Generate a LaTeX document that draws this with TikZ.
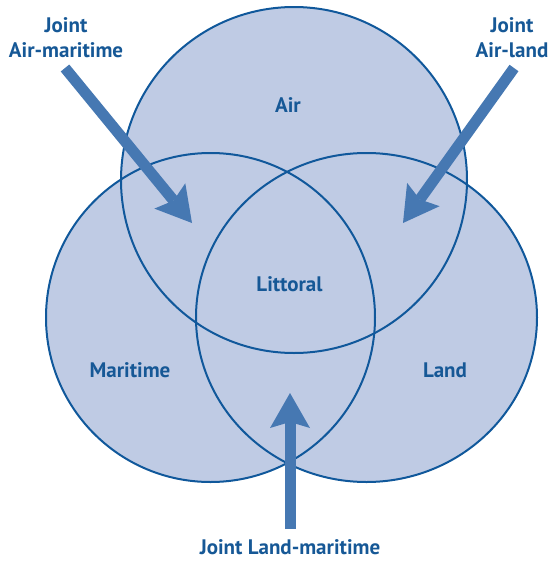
\documentclass[tikz,border=0pt]{standalone}
\usepackage{fontspec}
\setmainfont{PT Sans}
\usepackage{tikz}
\usetikzlibrary{arrows.meta}

\definecolor{zonefill}{RGB}{191,203,228}
\definecolor{zoneline}{RGB}{16,88,155}
\definecolor{arrowblue}{RGB}{70,120,178}
\definecolor{labelblue}{RGB}{22,88,150}

\begin{document}
\begin{tikzpicture}[
    x=1pt, y=-1pt,
    zone/.style={line width=2pt, draw=zoneline},
    lbl/.style={text=labelblue, font=\fontsize{21}{25}\selectfont\bfseries, align=center, anchor=base, inner sep=0pt},
    bigarr/.style={line width=11pt, draw=arrowblue, -{Stealth[length=35pt, width=40pt, inset=6pt, line width=0pt]}}
]
\useasboundingbox (0,0) rectangle (550,563);

% Domains
\coordinate (air)      at (294,180);
\coordinate (maritime) at (210.5,317.5);
\coordinate (land)     at (366.5,317.5);
\fill[zonefill] (air) circle [radius=173];
\fill[zonefill] (maritime) circle [radius=164.5];
\fill[zonefill] (land) ellipse [x radius=170.5, y radius=164.5];
\draw[zone] (air) circle [radius=173];
\draw[zone] (maritime) circle [radius=164.5];
\draw[zone] (land) ellipse [x radius=170.5, y radius=164.5];

% Labels
\node[lbl] (airtxt)  at (288,112) {Air};
\node[lbl] (littxt)  at (289.5,291) {Littoral};
\node[lbl] (martxt)  at (130,377) {Maritime};
\node[lbl] (landtxt) at (445,377) {Land};
\node[lbl] (jam) at (66,57)  {Joint\\Air-maritime};
\node[lbl] (jal) at (512,57) {Joint\\Air-land};
\node[lbl] (jlm) at (290,554) {Joint Land-maritime};

% Arrows
\coordinate (jamtail) at (65,68);
\coordinate (jamtip)  at (192,223);
\coordinate (jaltail) at (514,68);
\coordinate (jaltip)  at (403,223);
\coordinate (jlmtail) at (290,529);
\coordinate (jlmtip)  at (290,393);
\draw[bigarr] (jamtail) -- (jamtip);
\draw[bigarr] (jaltail) -- (jaltip);
\draw[bigarr] (jlmtail) -- (jlmtip);
\end{tikzpicture}
\end{document}
